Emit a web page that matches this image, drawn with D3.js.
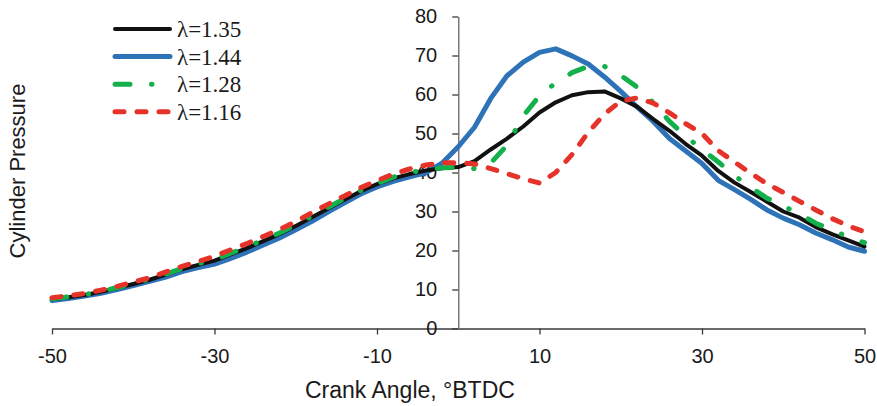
<!DOCTYPE html>
<html>
<head>
<meta charset="utf-8">
<script src="https://cdn.jsdelivr.net/npm/d3@7"></script>
<style>
  body { margin: 0; background: #fff; }
  svg { display: block; }
</style>
</head>
<body>
<svg id="chart" width="877" height="406"></svg>
<script>
// crank angle, 2 degree steps
var angles = d3.range(-50, 51, 2)

var labels = ['λ=1.35', 'λ=1.44', 'λ=1.28', 'λ=1.16']

var p135 = [7.5, 8.0, 8.6, 9.4, 10.4, 11.4, 12.5, 13.8, 15.2, 16.3, 17.4, 19.0, 20.6, 22.4, 24.2, 26.3,
  28.5, 30.8, 33.0, 35.2, 37.0, 38.5, 39.6, 40.5, 41.1, 41.4, 42.9, 45.9, 48.7, 51.8, 55.4,
  58.0, 59.8, 60.6, 60.8, 59.0, 56.9, 53.7, 50.7, 47.3, 44.3, 40.4, 37.4, 35.0, 32.5, 30.0,
  28.4, 26.0, 24.2, 22.6, 21.0]

var p144 = [7.2, 7.7, 8.3, 9.0, 10.0, 11.0, 12.1, 13.2, 14.6, 15.6, 16.5, 18.0, 19.6, 21.4, 23.2, 25.3,
  27.5, 29.9, 32.2, 34.5, 36.3, 37.7, 38.9, 39.9, 42.4, 46.6, 51.6, 59.0, 64.8, 68.3, 70.8,
  71.7, 69.9, 67.8, 64.5, 60.8, 56.8, 53.1, 48.7, 45.5, 42.3, 38.0, 35.6, 33.1, 30.4, 28.3,
  26.6, 24.5, 22.8, 20.9, 19.8]

var p128 = [7.6, 8.1, 8.7, 9.5, 10.5, 11.5, 12.7, 14.0, 15.4, 16.6, 17.7, 19.3, 20.9, 22.7, 24.5, 26.6,
  28.8, 31.1, 33.3, 35.4, 37.2, 38.8, 40.0, 40.7, 41.2, 41.3, 41.0, 42.4, 47.0, 54.5, 59.7,
  63.0, 65.6, 67.2, 67.2, 64.9, 61.9, 57.9, 53.1, 49.3, 45.9, 42.7, 39.2, 36.2, 33.4, 31.4,
  29.4, 27.0, 25.3, 23.4, 22.0]

var p116 = [7.9, 8.4, 9.0, 9.8, 10.8, 11.9, 13.0, 14.5, 15.9, 17.2, 18.5, 20.2, 21.8, 23.6, 25.4, 27.4,
  29.7, 31.9, 34.0, 36.1, 37.9, 39.6, 40.9, 41.9, 42.5, 42.5, 42.2, 41.0, 39.7, 38.4, 37.3,
  40.0, 44.6, 50.3, 55.0, 58.3, 59.1, 57.8, 55.3, 52.5, 50.0, 45.6, 42.7, 39.8, 37.1, 34.9,
  32.6, 30.4, 28.2, 26.3, 24.8]

var xTicks = [-50, -30, -10, 10, 30, 50]
var yTicks = d3.range(0, 81, 10)

var styles = [
  {color: '#111111', width: 4, dash: null},
  {color: '#2e72b8', width: 5, dash: null},
  {color: '#14b04b', width: 5, dash: '15,21.5,0.5,21.5'},
  {color: '#e5332a', width: 5, dash: '9,13'}
]
var seriesVals = [p135, p144, p128, p116]

var svg = d3.select('#chart')

var x = d3.scaleLinear().domain([-50, 50]).range([52, 864.5])
var y = d3.scaleLinear().domain([0, 80]).range([328.5, 16.5])

// plain hyphen for negatives, like the original
var plain = function(d) { return String(d) }

// x axis along the bottom
var xAxis = svg.append('g')
  .attr('transform', 'translate(0,' + y(0) + ')')
  .call(d3.axisBottom(x).tickValues(xTicks).tickFormat(plain).tickSize(6).tickSizeOuter(0).tickPadding(14))
xAxis.select('.domain').attr('stroke', '#3a3a3a').attr('stroke-width', 1.3)
xAxis.selectAll('.tick line').attr('stroke', '#3a3a3a').attr('stroke-width', 1.3)
xAxis.selectAll('text')
  .attr('font-family', 'Liberation Sans, Arial, sans-serif')
  .attr('font-size', 20)
  .attr('fill', '#1a1a1a')

// y axis sits at crank angle 0
var yAxis = svg.append('g')
  .attr('transform', 'translate(' + x(0) + ',0)')
  .call(d3.axisLeft(y).tickValues(yTicks).tickFormat(plain).tickSize(6).tickSizeOuter(0).tickPadding(15))
yAxis.select('.domain').attr('stroke', '#7a7a7a').attr('stroke-width', 1.5)
yAxis.selectAll('.tick line').attr('stroke', '#3a3a3a').attr('stroke-width', 1.3)
yAxis.selectAll('text')
  .attr('font-family', 'Liberation Sans, Arial, sans-serif')
  .attr('font-size', 20)
  .attr('fill', '#1a1a1a')

var line = d3.line()
  .x(function(d, i) { return x(angles[i]) })
  .y(function(d) { return y(d) })

// draw order: blue under black, dashed on top
var order = [1, 0, 2, 3]
order.forEach(function(k) {
  svg.append('path')
    .datum(seriesVals[k])
    .attr('fill', 'none')
    .attr('stroke', styles[k].color)
    .attr('stroke-width', styles[k].width)
    .attr('stroke-linejoin', 'round')
    .attr('stroke-linecap', 'round')
    .attr('stroke-dasharray', styles[k].dash)
    .attr('d', line)
})

// legend
var legend = svg.append('g')
labels.forEach(function(lab, i) {
  var ly = 29 + i * 27.6
  legend.append('line')
    .attr('x1', 115).attr('x2', 170)
    .attr('y1', ly).attr('y2', ly)
    .attr('stroke', styles[i].color)
    .attr('stroke-width', styles[i].width)
    .attr('stroke-linecap', 'round')
    .attr('stroke-dasharray', styles[i].dash)
  legend.append('text')
    .attr('x', 177).attr('y', ly + 8)
    .attr('font-family', 'Liberation Serif, Times New Roman, serif')
    .attr('font-size', 23)
    .attr('fill', '#1a1a1a')
    .text(lab)
})

svg.append('text')
  .attr('x', 305).attr('y', 398)
  .attr('font-family', 'Liberation Sans, Arial, sans-serif')
  .attr('font-size', 23)
  .attr('fill', '#1a1a1a')
  .text('Crank Angle, °BTDC')

svg.append('text')
  .attr('transform', 'translate(25,171) rotate(-90)')
  .attr('text-anchor', 'middle')
  .attr('font-family', 'Liberation Sans, Arial, sans-serif')
  .attr('font-size', 22)
  .attr('fill', '#1a1a1a')
  .text('Cylinder Pressure')
</script>
</body>
</html>
